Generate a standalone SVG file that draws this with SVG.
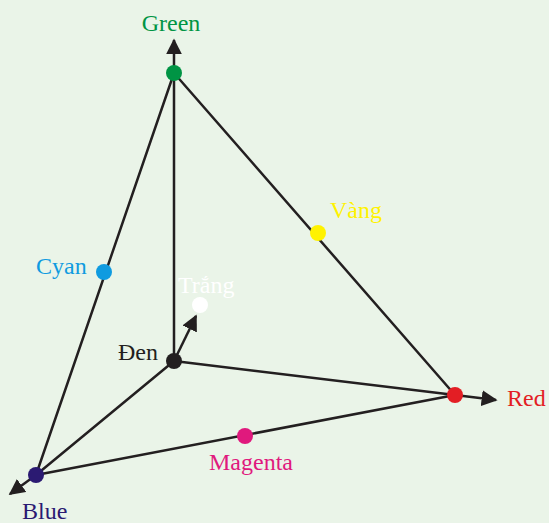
<svg xmlns="http://www.w3.org/2000/svg" width="549" height="523" viewBox="0 0 549 523">
<defs>
<marker id="ah" viewBox="0 0 10 10" refX="9" refY="5" markerWidth="6.4" markerHeight="6.4" markerUnits="strokeWidth" orient="auto">
<path d="M0,0 L10,5 L0,10 z" fill="#231f20"/>
</marker>
<style>
.ln{stroke:#231f20;stroke-width:2.5;fill:none;stroke-linecap:round}
.ar{stroke:#231f20;stroke-width:2.5;fill:none;marker-end:url(#ah)}
text{font-family:"Liberation Serif","Times New Roman",serif;font-size:24px}
</style>
</defs>
<rect width="549" height="523" fill="#eaf4e8"/>
<g id="connectors">
<line class="ln" x1="174" y1="73" x2="455" y2="395"/>
<line class="ln" x1="174" y1="73" x2="36" y2="475"/>
<line class="ln" x1="455" y1="395" x2="36" y2="475"/>
<line class="ln" x1="174" y1="361" x2="455" y2="395"/>
<line class="ln" x1="174" y1="361" x2="36" y2="475"/>
<line class="ar" x1="174" y1="361" x2="174" y2="40"/>
<line class="ar" x1="455" y1="395" x2="496" y2="400"/>
<line class="ar" x1="36" y1="475" x2="10" y2="494"/>
<line class="ar" x1="174" y1="361" x2="196" y2="316"/>
</g>
<g id="den"><circle cx="174" cy="361" r="8" fill="#231f20"/><text x="118" y="360" fill="#231f20">Đen</text></g>
<g id="green"><circle cx="174" cy="73" r="8" fill="#009444"/><text x="171" y="31" fill="#009444" text-anchor="middle">Green</text></g>
<g id="red"><circle cx="455" cy="395" r="8" fill="#e31e24"/><text x="507" y="406" fill="#e31e24">Red</text></g>
<g id="blue"><circle cx="36" cy="475" r="8" fill="#2b1a72"/><text x="22" y="519" fill="#2b1a72">Blue</text></g>
<g id="cyan"><circle cx="104" cy="272" r="8" fill="#0f9be0"/><text x="36" y="274" fill="#0f9be0">Cyan</text></g>
<g id="vang"><circle cx="318" cy="233" r="8" fill="#fff200"/><text x="330" y="218" fill="#fff200">Vàng</text></g>
<g id="magenta"><circle cx="245" cy="436" r="8" fill="#e0197d"/><text x="209" y="470" fill="#e0197d">Magenta</text></g>
<g id="trang"><circle cx="200" cy="305" r="8" fill="#ffffff"/><text x="178" y="293" fill="#ffffff">Trắng</text></g>
</svg>
